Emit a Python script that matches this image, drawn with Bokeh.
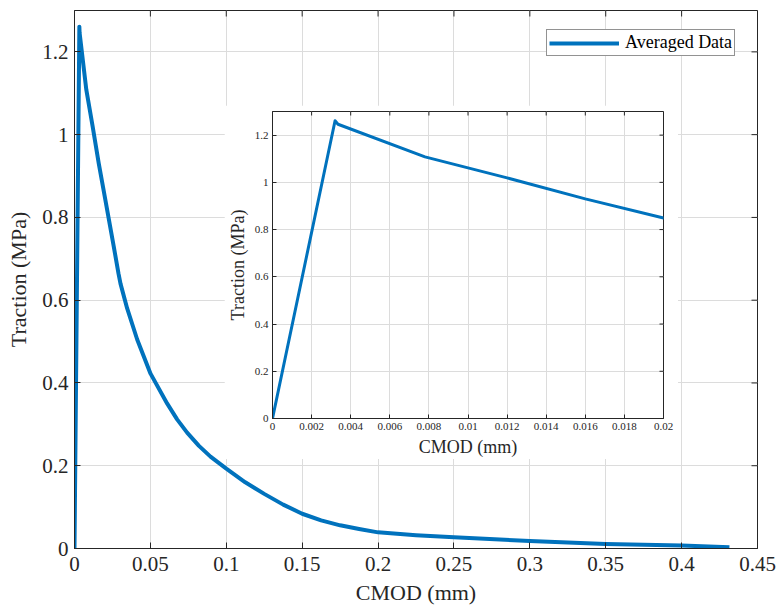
from bokeh.plotting import figure
from bokeh.models import FixedTicker, Range1d
from bokeh.embed import file_html
from bokeh.resources import INLINE
import math

# ---- data ----
cmod = [0, 0.0032, 0.00335, 0.0078, 0.012, 0.016, 0.02, 0.0259, 0.029, 0.0303,
        0.0347, 0.0413, 0.0501, 0.0611, 0.0676, 0.0742, 0.082, 0.0896, 0.1,
        0.1125, 0.125, 0.1375, 0.15, 0.1625, 0.175, 0.1875, 0.2, 0.225, 0.25,
        0.3, 0.35, 0.4, 0.4315]
traction = [0, 1.261, 1.246, 1.108, 1.019, 0.93, 0.849, 0.729, 0.664, 0.640,
            0.580, 0.505, 0.4225, 0.350, 0.312, 0.280, 0.248, 0.222, 0.193,
            0.160, 0.132, 0.106, 0.084, 0.068, 0.056, 0.047, 0.039, 0.032, 0.027,
            0.018, 0.011, 0.007, 0.003]

main_x_ticks = [0, 0.05, 0.1, 0.15, 0.2, 0.25, 0.3, 0.35, 0.4, 0.45]
main_x_labels = ["0", "0.05", "0.1", "0.15", "0.2", "0.25", "0.3", "0.35", "0.4", "0.45"]
y_ticks = [0, 0.2, 0.4, 0.6, 0.8, 1, 1.2]
y_labels = ["0", "0.2", "0.4", "0.6", "0.8", "1", "1.2"]
inset_x_ticks = [0, 0.002, 0.004, 0.006, 0.008, 0.01, 0.012, 0.014, 0.016, 0.018, 0.02]
inset_x_labels = ["0", "0.002", "0.004", "0.006", "0.008", "0.01", "0.012", "0.014",
                  "0.016", "0.018", "0.02"]

main_x_max = 0.45
inset_x_max = 0.02
y_max = 1.3

series_name = "Averaged Data"
x_title = "CMOD (mm)"
y_title = "Traction (MPa)"

BLUE = "#0072BD"
DARK = "#262626"
GRID = "#dcdcdc"
FONT = "Liberation Serif"


def style_axis(ax, ticks, labels, font_size, tick_len):
    ax.ticker = FixedTicker(ticks=ticks)
    ax.major_label_overrides = {t: l for t, l in zip(ticks, labels)}
    ax.minor_tick_line_color = None
    ax.major_tick_in = tick_len
    ax.major_tick_out = 0
    ax.major_tick_line_color = DARK
    ax.axis_line_color = DARK
    ax.major_label_text_color = DARK
    ax.major_label_text_font = FONT
    ax.major_label_text_font_size = font_size
    ax.axis_label_text_font = FONT
    ax.axis_label_text_font_style = "normal"
    ax.axis_label_text_color = DARK


def mirror_ticks(fig, xticks, yticks, xmax, ymax, tick_len):
    # inward ticks on the top and right edges (outer half clipped by the frame)
    fig.scatter(xticks, [ymax] * len(xticks), marker="dash", size=2 * tick_len,
                angle=math.pi / 2, line_color=DARK, line_width=1)
    fig.scatter([xmax] * len(yticks), yticks, marker="dash", size=2 * tick_len,
                line_color=DARK, line_width=1)


# ---- main figure ----
p = figure(width=778, height=611, output_backend="svg", toolbar_location=None,
           x_range=Range1d(0, main_x_max), y_range=Range1d(0, y_max), name="main")
p.min_border_left = 74
p.min_border_right = 21
p.min_border_top = 10
p.min_border_bottom = 63
p.outline_line_color = DARK
p.background_fill_color = "white"
p.border_fill_color = "white"

p.xgrid.ticker = FixedTicker(ticks=main_x_ticks)
p.ygrid.ticker = FixedTicker(ticks=y_ticks)
p.grid.grid_line_color = GRID
p.grid.grid_line_width = 1

p.line(cmod, traction, line_color=BLUE, line_width=4, line_join="round",
       legend_label=series_name)
mirror_ticks(p, main_x_ticks, y_ticks, main_x_max, y_max, 6)

style_axis(p.xaxis[0], main_x_ticks, main_x_labels, "21px", 6)
style_axis(p.yaxis[0], y_ticks, y_labels, "21px", 6)
p.xaxis[0].axis_label = x_title
p.yaxis[0].axis_label = y_title
p.xaxis[0].axis_label_text_font_size = "22px"
p.yaxis[0].axis_label_text_font_size = "22px"
p.xaxis[0].major_label_standoff = 8
p.yaxis[0].major_label_standoff = 6
p.xaxis[0].axis_label_standoff = 6
p.yaxis[0].axis_label_standoff = 8

lg = p.legend[0]
lg.location = (472, 492)
lg.border_line_color = DARK
lg.border_line_width = 1
lg.background_fill_color = "white"
lg.background_fill_alpha = 1
lg.label_text_font = FONT
lg.label_text_font_size = "18px"
lg.label_text_color = "black"
lg.glyph_width = 70
lg.glyph_height = 16
lg.label_height = 16
lg.label_standoff = 6
lg.padding = 2
lg.spacing = 0
lg.margin = 0

# ---- inset figure ----
q = figure(width=454, height=354, output_backend="svg", toolbar_location=None,
           x_range=Range1d(0, inset_x_max), y_range=Range1d(0, y_max), name="inset")
q.min_border_left = 47
q.min_border_right = 15
q.min_border_top = 6
q.min_border_bottom = 40
q.outline_line_color = DARK
q.background_fill_color = "white"
q.border_fill_color = "white"

q.xgrid.ticker = FixedTicker(ticks=inset_x_ticks)
q.ygrid.ticker = FixedTicker(ticks=y_ticks)
q.grid.grid_line_color = GRID
q.grid.grid_line_width = 1

q.line(cmod, traction, line_color=BLUE, line_width=3, line_join="round")
mirror_ticks(q, inset_x_ticks, y_ticks, inset_x_max, y_max, 4)

style_axis(q.xaxis[0], inset_x_ticks, inset_x_labels, "11px", 4)
style_axis(q.yaxis[0], y_ticks, y_labels, "11px", 4)
q.xaxis[0].axis_label = x_title
q.yaxis[0].axis_label = y_title
q.xaxis[0].axis_label_text_font_size = "18px"
q.yaxis[0].axis_label_text_font_size = "18px"
q.xaxis[0].major_label_standoff = 4
q.yaxis[0].major_label_standoff = 4
q.xaxis[0].axis_label_standoff = 4
q.yaxis[0].axis_label_standoff = 4

# page template: the inset is laid over the main plot
TEMPLATE = """
{% block contents %}
{% from macros import embed %}
<div style="position: relative; width: 778px; height: 611px;">
  <div style="position: absolute; left: 0px; top: 0px;">{{ embed(roots.main) }}</div>
  <div style="position: absolute; left: 224px; top: 105px;">{{ embed(roots.inset) }}</div>
</div>
{% endblock %}
"""

open("out.html", "w").write(file_html([p, q], INLINE, template=TEMPLATE))
